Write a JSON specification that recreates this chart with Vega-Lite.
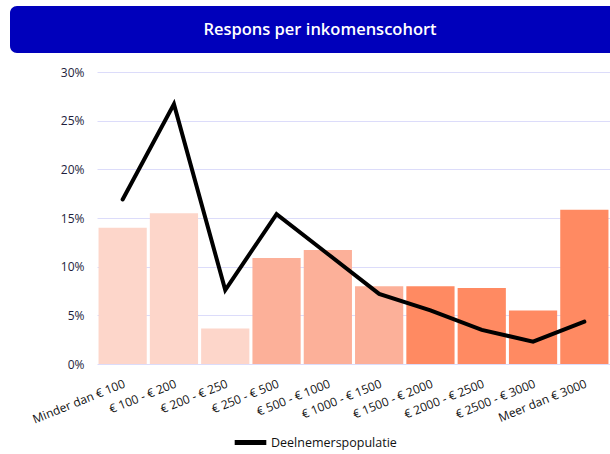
{
  "$schema": "https://vega.github.io/schema/vega-lite/v6.json",
  "padding": {"left": 10, "top": 6, "right": 0, "bottom": 0},
  "background": "white",
  "spacing": 13,
  "config": {
    "font": "Open Sans",
    "view": {"stroke": null}
  },
  "datasets": {
    "inkomen": [
      {"cohort": "Minder dan € 100", "groep": "laag", "respons": 0.140, "populatie": 0.169},
      {"cohort": "€ 100 - € 200", "groep": "laag", "respons": 0.155, "populatie": 0.267},
      {"cohort": "€ 200 - € 250", "groep": "laag", "respons": 0.0365, "populatie": 0.076},
      {"cohort": "€ 250 - € 500", "groep": "midden", "respons": 0.109, "populatie": 0.154},
      {"cohort": "€ 500 - € 1000", "groep": "midden", "respons": 0.117, "populatie": 0.113},
      {"cohort": "€ 1000 - € 1500", "groep": "midden", "respons": 0.080, "populatie": 0.072},
      {"cohort": "€ 1500 - € 2000", "groep": "hoog", "respons": 0.080, "populatie": 0.055},
      {"cohort": "€ 2000 - € 2500", "groep": "hoog", "respons": 0.078, "populatie": 0.035},
      {"cohort": "€ 2500 - € 3000", "groep": "hoog", "respons": 0.055, "populatie": 0.023},
      {"cohort": "Meer dan € 3000", "groep": "hoog", "respons": 0.1585, "populatie": 0.0435}
    ]
  },
  "vconcat": [
    {
      "width": 620,
      "height": 47,
      "view": {"fill": "#0000BB", "cornerRadius": 7, "stroke": null},
      "data": {"values": [{"titel": "Respons per inkomenscohort"}]},
      "mark": {"type": "text", "color": "white", "fontSize": 16.5, "fontWeight": 600, "font": "Open Sans", "baseline": "middle", "align": "center"},
      "encoding": {"text": {"field": "titel"}}
    },
    {
      "spacing": 0,
      "hconcat": [
        {
          "width": 1,
          "height": 1,
          "data": {"values": [{"leeg": ""}]},
          "mark": {"type": "text"},
          "encoding": {"text": {"field": "leeg"}}
        },
        {
          "width": 513,
          "height": 292,
          "data": {"name": "inkomen"},
          "encoding": {
            "x": {
              "field": "cohort",
              "type": "nominal",
              "sort": null,
              "scale": {"paddingInner": 0.06, "paddingOuter": 0.03},
              "axis": {
                "title": null,
                "labelAngle": -22,
                "labelAlign": "right",
                "labelBaseline": "top",
                "labelFontSize": 12,
                "labelColor": "#111111",
                "labelPadding": 14,
                "ticks": false,
                "domain": false
              }
            }
          },
          "layer": [
            {
              "mark": {"type": "bar"},
              "encoding": {
                "y": {
                  "field": "respons",
                  "type": "quantitative",
                  "scale": {"domain": [0, 0.3]},
                  "axis": {
                    "title": "\u00a0",
                    "titleFontSize": 12,
                    "titlePadding": 2,
                    "minExtent": 71,
                    "format": ".0%",
                    "tickCount": 7,
                    "labelFontSize": 12,
                    "labelColor": "#1e1e3c",
                    "labelPadding": 13,
                    "ticks": false,
                    "domain": false,
                    "gridColor": "#dcdcfa",
                    "gridWidth": 1
                  }
                },
                "color": {
                  "field": "groep",
                  "type": "nominal",
                  "scale": {"domain": ["laag", "midden", "hoog"], "range": ["#fdd6ca", "#fcb099", "#ff8a62"]},
                  "legend": null
                }
              }
            },
            {
              "mark": {"type": "line", "strokeWidth": 4, "strokeCap": "round", "strokeJoin": "miter"},
              "encoding": {
                "y": {"field": "populatie", "type": "quantitative"},
                "stroke": {
                  "datum": "Deelnemerspopulatie",
                  "type": "nominal",
                  "scale": {"range": ["#000000"]},
                  "legend": {
                    "title": null,
                    "orient": "none",
                    "legendX": 222,
                    "legendY": 418,
                    "symbolType": "stroke",
                    "symbolSize": 1000,
                    "symbolStrokeWidth": 5,
                    "labelFontSize": 12.5,
                    "labelColor": "#111111",
                    "labelOffset": 2
                  }
                }
              }
            }
          ]
        }
      ]
    }
  ]
}
